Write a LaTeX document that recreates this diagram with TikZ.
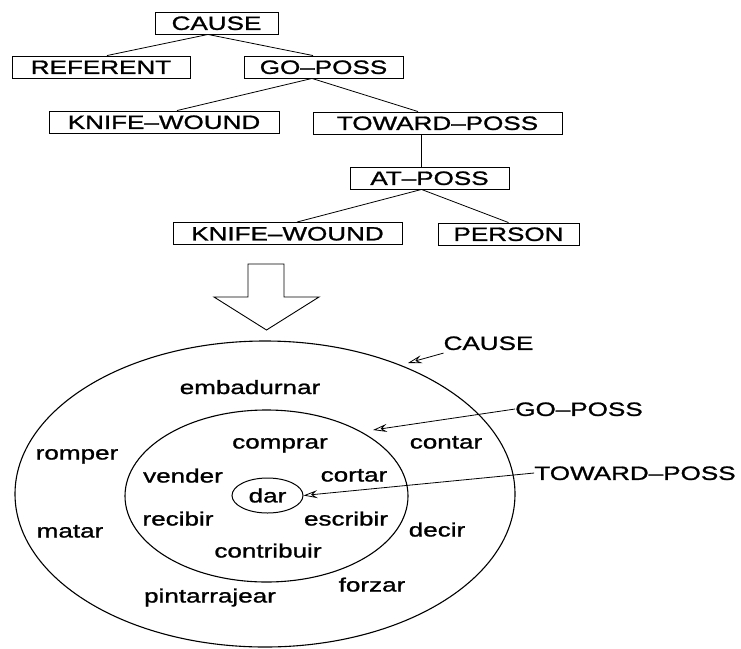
\documentclass[tikz,border=0pt]{standalone}
\usepackage{fontspec}
\setmainfont{Liberation Sans}[FakeStretch=1.35,FakeBold=1.2]
\usetikzlibrary{arrows.meta,shapes.geometric}
\begin{document}
\begin{tikzpicture}[x=1pt,y=-1pt,
  font=\fontsize{19.3}{22}\selectfont,
  tbox/.style={draw, line width=0.9pt, inner sep=0pt, minimum height=22pt, text height=13.8pt, text depth=0pt},
  tline/.style={line width=0.8pt},
  lab/.style={inner sep=0pt, text height=13.8pt, text depth=0pt},
  word/.style={anchor=base, inner sep=0pt},
  conn/.style={line width=0.8pt, -{Stealth[open, length=14pt, width=8pt, inset=5pt]}}]
\useasboundingbox (0,0) rectangle (741,648);
% tree
\node[tbox, minimum width=123pt] (cause) at (216.5,23) {CAUSE};
\node[tbox, minimum width=178pt] (ref) at (101,67) {REFERENT};
\node[tbox, minimum width=159pt] (go) at (323.5,67) {GO--POSS};
\node[tbox, minimum width=230pt] (kw1) at (164,122) {KNIFE--WOUND};
\node[tbox, minimum width=249pt] (tow) at (437.5,123) {TOWARD--POSS};
\node[tbox, minimum width=159pt] (at) at (429.5,178) {AT--POSS};
\node[tbox, minimum width=229pt] (kw2) at (287.5,233.5) {KNIFE--WOUND};
\node[tbox, minimum width=141pt] (per) at (508.5,234) {PERSON};
\draw[tline] ([xshift=-8.5pt]cause.south) -- ([xshift=6pt]ref.north);
\draw[tline] ([xshift=-8.5pt]cause.south) -- ([xshift=-10.5pt]go.north);
\draw[tline] ([xshift=-11.5pt]go.south) -- ([xshift=13pt]kw1.north);
\draw[tline] ([xshift=-11.5pt]go.south) -- ([xshift=-19.5pt]tow.north);
\draw[tline] ([xshift=-16.5pt]tow.south) -- ([xshift=-8.5pt]at.north);
\draw[tline] ([xshift=-8pt]at.south) -- ([xshift=9.5pt]kw2.north);
\draw[tline] ([xshift=-8pt]at.south) -- (per.north);
% big arrow
\draw[line width=0.9pt, line join=miter] (248,264) -- (284,264) -- (284,297) -- (319,297) -- (266.5,330) -- (214,297) -- (248,297) -- cycle;
% ellipses
\draw[line width=1.1pt] (265,494) ellipse [x radius=250pt, y radius=153pt];
\draw[line width=1.1pt] (266.5,496) ellipse [x radius=141.5pt, y radius=86pt];
\node[draw, ellipse, line width=1pt, minimum width=71pt, minimum height=35pt, inner sep=0pt] (dar) at (267.5,495.5) {dar};
% words
\node[word] (w1) at (250,394) {embadurnar};
\node[word] (w2) at (77,459.5) {romper};
\node[word] (w3) at (70,537.5) {matar};
\node[word] (w4) at (280,448.5) {comprar};
\node[word] (w5) at (183,482.5) {vender};
\node[word] (w6) at (354,481.5) {cortar};
\node[word] (w7) at (178,525.5) {recibir};
\node[word] (w8) at (346,525.5) {escribir};
\node[word] (w9) at (268,557.5) {contribuir};
\node[word] (w10) at (210,602.5) {pintarrajear};
\node[word] (w11) at (446,448.5) {contar};
\node[word] (w12) at (437,536.5) {decir};
\node[word] (w13) at (372,591.5) {forzar};
% labels and arrows
\node[lab] (causeL) at (488.5,343) {CAUSE};
\node[lab] (goL) at (579,409) {GO--POSS};
\node[lab] (towL) at (635,473) {TOWARD--POSS};
\coordinate (causeT) at (408,363);
\coordinate (goT) at (373,430);
\draw[conn] ([yshift=-3pt]causeL.south west) -- (causeT);
\draw[conn] (goL.west) -- (goT);
\draw[conn] (towL.west) -- (dar.east);
\end{tikzpicture}
\end{document}
